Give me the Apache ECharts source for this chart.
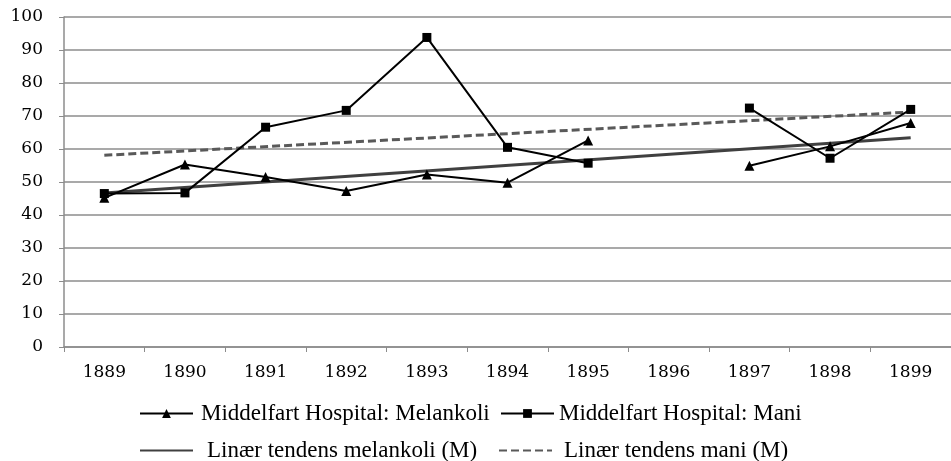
<!DOCTYPE html>
<html>
<head>
<meta charset="utf-8">
<script src="https://cdn.jsdelivr.net/npm/echarts@6/dist/echarts.min.js"></script>
<style>
  html, body { margin: 0; padding: 0; background: #fff; }
  #chart { width: 951px; height: 461px; }
</style>
</head>
<body>
<div id="chart"></div>
<script>
// 数据
const years = ['1889', '1890', '1891', '1892', '1893', '1894', '1895', '1896', '1897', '1898', '1899']
const melankoli = [45.2, 55.3, 51.5, 47.3, 52.3, 49.8, 62.6, null, 54.9, 60.8, 67.9]
const mani = [46.5, 46.7, 66.6, 71.7, 93.8, 60.5, 55.7, null, 72.4, 57.2, 72.0]
// 趋势线只给两端
const trendMelankoli = [46.7, null, null, null, null, null, null, null, null, null, 63.4]
const trendMani = [58.1, null, null, null, null, null, null, null, null, null, 71.2]

const names = [
  'Middelfart Hospital: Melankoli',
  'Middelfart Hospital: Mani',
  'Linær tendens melankoli (M)',
  'Linær tendens mani (M)'
]

const gridColor = '#8c8c8c'
const axisFont = 'DejaVu Serif'
const legendFont = 'Liberation Serif'

const chart = echarts.init(document.getElementById('chart'))

// 每个图例单独放，方便对位置
const legendItem = (name, left, top, textGap, hideSymbol) => ({
  data: [name],
  left: left,
  top: top,
  padding: 0,
  itemWidth: 53,
  itemHeight: 11,
  itemGap: 0,
  itemStyle: hideSymbol ? { opacity: 0 } : undefined,
  textStyle: {
    fontFamily: legendFont,
    fontSize: 23,
    color: '#000',
    padding: [0, 0, 0, textGap]
  }
})

const option = {
  backgroundColor: '#ffffff',
  animation: false,
  grid: {
    left: 64,
    top: 17,
    width: 902,
    height: 330
  },
  legend: [
    legendItem(names[0], 139, 402, 3, false),
    legendItem(names[1], 500, 402, 0, false),
    legendItem(names[2], 139, 439, 9, true),
    legendItem(names[3], 498, 439, 7, true)
  ],
  xAxis: {
    type: 'category',
    data: years,
    boundaryGap: true,
    axisLine: { lineStyle: { color: gridColor, width: 1.5 } },
    axisTick: { show: true, length: 5, lineStyle: { color: gridColor } },
    axisLabel: {
      color: '#000',
      fontFamily: axisFont,
      fontSize: 17,
      margin: 17
    },
    splitLine: { show: false }
  },
  yAxis: {
    type: 'value',
    min: 0,
    max: 100,
    interval: 10,
    axisLine: { show: true, lineStyle: { color: gridColor, width: 1.5 } },
    axisTick: { show: true, length: 5, lineStyle: { color: gridColor } },
    axisLabel: {
      color: '#000',
      fontFamily: axisFont,
      fontSize: 17,
      margin: 21
    },
    splitLine: { lineStyle: { color: gridColor, width: 1.5 } }
  },
  series: [
    {
      name: names[2],
      type: 'line',
      data: trendMelankoli,
      connectNulls: true,
      symbol: 'none',
      lineStyle: { color: '#404040', width: 3 },
      itemStyle: { color: '#404040' },
      z: 2
    },
    {
      name: names[3],
      type: 'line',
      data: trendMani,
      connectNulls: true,
      symbol: 'none',
      lineStyle: { color: '#595959', width: 3, type: [8, 4] },
      itemStyle: { color: '#595959' },
      z: 2
    },
    {
      name: names[0],
      type: 'line',
      data: melankoli,
      symbol: 'triangle',
      symbolSize: 10,
      lineStyle: { color: '#000', width: 2 },
      itemStyle: { color: '#000' },
      z: 3
    },
    {
      name: names[1],
      type: 'line',
      data: mani,
      symbol: 'rect',
      symbolSize: 9,
      lineStyle: { color: '#000', width: 2 },
      itemStyle: { color: '#000' },
      z: 3
    }
  ]
}

chart.setOption(option)
</script>
</body>
</html>
